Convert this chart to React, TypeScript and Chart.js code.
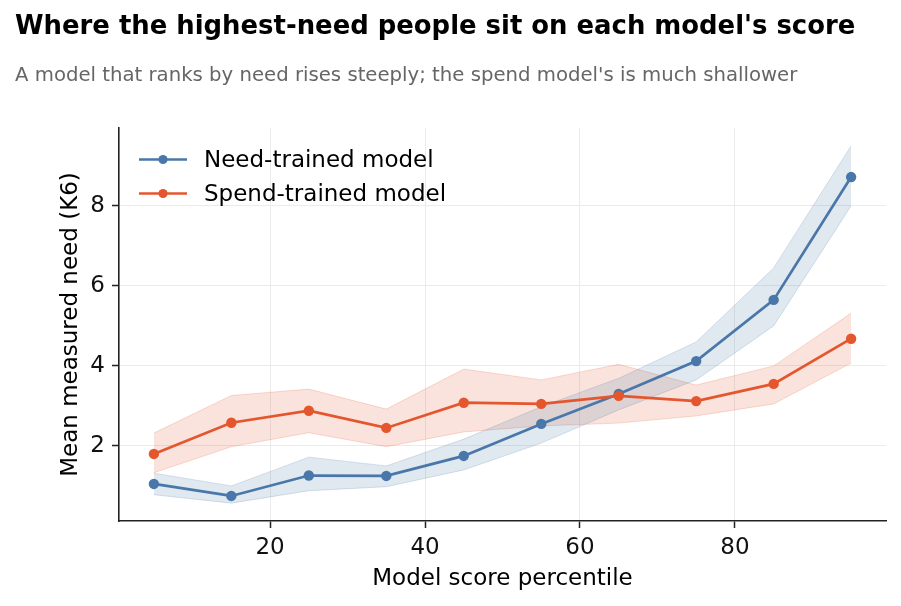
import { useEffect, useRef } from "react";
import { Chart, registerables } from "chart.js";

Chart.register(...registerables);

// Score percentile bins (bin centres)
const percentiles = [5, 15, 25, 35, 45, 55, 65, 75, 85, 95];

// Need-trained model: mean K6 per bin and its interval
const needMean = [1.05, 0.75, 1.26, 1.25, 1.75, 2.55, 3.3, 4.12, 5.65, 8.72];
const needLow = [0.78, 0.57, 0.88, 0.98, 1.4, 2.07, 2.9, 3.65, 5.0, 8.0];
const needHigh = [1.32, 1.0, 1.72, 1.5, 2.17, 2.98, 3.69, 4.6, 6.45, 9.5];

// Spend-trained model: mean K6 per bin and its interval
const spendMean = [1.8, 2.58, 2.88, 2.45, 3.08, 3.05, 3.25, 3.12, 3.55, 4.68];
const spendLow = [1.33, 1.98, 2.33, 1.98, 2.35, 2.5, 2.57, 2.75, 3.05, 4.07];
const spendHigh = [2.32, 3.26, 3.42, 2.92, 3.92, 3.65, 4.04, 3.52, 4.0, 5.32];

const xTicks = [20, 40, 60, 80];
const yTicks = [2, 4, 6, 8];

const TITLE = "Where the highest-need people sit on each model's score";
const SUBTITLE =
  "A model that ranks by need rises steeply; the spend model's is much shallower";
const X_LABEL = "Model score percentile";
const Y_LABEL = "Mean measured need (K6)";
const NEED_LABEL = "Need-trained model";
const SPEND_LABEL = "Spend-trained model";

const BLUE = "#4a77a9";
const ORANGE = "#e4572e";
const FAMILY = "DejaVu Sans";
const CSS_FAMILY = "'DejaVu Sans', sans-serif";

function rgba(hex: string, a: number): string {
  const n = parseInt(hex.slice(1), 16);
  return `rgba(${(n >> 16) & 255}, ${(n >> 8) & 255}, ${n & 255}, ${a})`;
}

const points = (ys: number[]) => percentiles.map((x, i) => ({ x, y: ys[i] }));

const band = (ys: number[], color: string, fill: string | boolean, label: string) => ({
  label,
  data: points(ys),
  borderColor: rgba(color, 0.2),
  backgroundColor: rgba(color, 0.17),
  borderWidth: 1,
  pointRadius: 0,
  fill,
  tension: 0,
  order: 10,
});

const line = (ys: number[], color: string, label: string, order: number) => ({
  label,
  data: points(ys),
  borderColor: color,
  backgroundColor: color,
  borderWidth: 2.7,
  pointRadius: 5.2,
  pointBorderWidth: 0,
  pointBackgroundColor: color,
  fill: false,
  tension: 0,
  order,
});

// Headings, axis titles and the in-plot legend
const textPlugin = {
  id: "chartText",
  afterDraw(chart: any) {
    const { ctx, chartArea } = chart;
    ctx.save();
    ctx.textBaseline = "alphabetic";

    ctx.fillStyle = "#000";
    ctx.textAlign = "left";
    ctx.font = `bold 25.9px ${CSS_FAMILY}`;
    ctx.fillText(TITLE, 15, 34);

    ctx.fillStyle = "#666";
    ctx.font = `19.7px ${CSS_FAMILY}`;
    ctx.fillText(SUBTITLE, 15, 81);

    ctx.fillStyle = "#000";
    ctx.font = `23px ${CSS_FAMILY}`;
    ctx.textAlign = "center";
    ctx.fillText(X_LABEL, (chartArea.left + chartArea.right) / 2, 585);

    ctx.save();
    ctx.translate(77, (chartArea.top + chartArea.bottom) / 2);
    ctx.rotate(-Math.PI / 2);
    ctx.fillText(Y_LABEL, 0, 0);
    ctx.restore();

    const entries = [
      { label: NEED_LABEL, color: BLUE, y: 159.5 },
      { label: SPEND_LABEL, color: ORANGE, y: 193.5 },
    ];
    for (const e of entries) {
      ctx.strokeStyle = e.color;
      ctx.lineWidth = 2.7;
      ctx.beginPath();
      ctx.moveTo(139, e.y);
      ctx.lineTo(187, e.y);
      ctx.stroke();
      ctx.fillStyle = e.color;
      ctx.beginPath();
      ctx.arc(163, e.y, 4.6, 0, Math.PI * 2);
      ctx.fill();
      ctx.fillStyle = "#000";
      ctx.textAlign = "left";
      ctx.fillText(e.label, 204, e.y + 7.8);
    }
    ctx.restore();
  },
};

export default function App() {
  const ref = useRef<HTMLCanvasElement>(null);

  useEffect(() => {
    if (!ref.current) return;
    const all = [...needLow, ...needHigh, ...spendLow, ...spendHigh, ...needMean, ...spendMean];
    const yLo = Math.min(...all);
    const yHi = Math.max(...all);
    const yPad = (yHi - yLo) * 0.05;
    const xLo = Math.min(...percentiles);
    const xHi = Math.max(...percentiles);
    const xPad = (xHi - xLo) * 0.05;

    const tickFont = { family: FAMILY, size: 23 };

    const chart = new Chart(ref.current, {
      type: "line",
      data: {
        datasets: [
          band(needLow, BLUE, false, "need-low"),
          band(needHigh, BLUE, "-1", "need-high"),
          band(spendLow, ORANGE, false, "spend-low"),
          band(spendHigh, ORANGE, "-1", "spend-high"),
          line(needMean, BLUE, NEED_LABEL, 1),
          line(spendMean, ORANGE, SPEND_LABEL, 0),
        ] as any,
      },
      options: {
        responsive: false,
        animation: false,
        devicePixelRatio: 1,
        layout: { padding: { top: 128, right: 15, bottom: 0, left: 0 } },
        plugins: {
          legend: { display: false },
          tooltip: { enabled: false },
          title: { display: false },
        },
        scales: {
          x: {
            type: "linear",
            min: xLo - xPad,
            max: xHi + xPad,
            afterFit(s: any) {
              s.height = 85;
            },
            afterBuildTicks(s: any) {
              s.ticks = xTicks.map((v) => ({ value: v }));
            },
            grid: {
              color: "#ebebeb",
              lineWidth: 1,
              tickColor: "#222",
              tickLength: 7,
              tickWidth: 1.5,
            },
            border: { color: "#222", width: 1.6 },
            ticks: { color: "#111", font: tickFont, padding: 6, maxRotation: 0 },
          },
          y: {
            type: "linear",
            min: yLo - yPad,
            max: yHi + yPad,
            afterFit(s: any) {
              s.width = 119;
            },
            afterBuildTicks(s: any) {
              s.ticks = yTicks.map((v) => ({ value: v }));
            },
            grid: {
              color: "#ebebeb",
              lineWidth: 1,
              tickColor: "#222",
              tickLength: 7,
              tickWidth: 1.5,
            },
            border: { color: "#222", width: 1.6 },
            ticks: { color: "#111", font: tickFont, padding: 7 },
          },
        },
      } as any,
      plugins: [textPlugin],
    });

    return () => chart.destroy();
  }, []);

  return (
    <div style={{ position: "absolute", left: 0, top: 0, width: 901, height: 606, background: "#fff" }}>
      <canvas ref={ref} width={901} height={606} style={{ display: "block" }} />
    </div>
  );
}
